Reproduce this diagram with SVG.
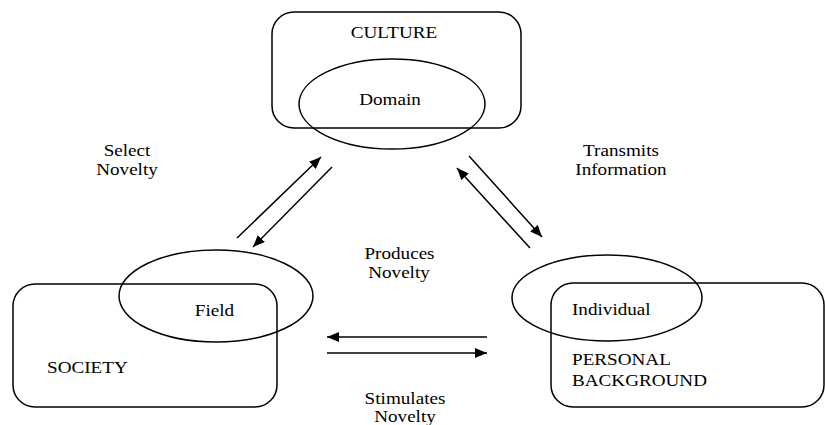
<svg xmlns="http://www.w3.org/2000/svg" width="825" height="425" viewBox="0 0 825 425">
<style>
.box{fill:none;stroke:#000;stroke-width:1.5}
.ell{fill:none;stroke:#000;stroke-width:1.5}
.t{font-family:"Liberation Serif",serif;font-size:16.5px;fill:#000}
.c{text-anchor:middle}
.ln{stroke:#000;stroke-width:1.5;fill:none;marker-end:url(#ah)}
</style>
<defs>
<marker id="ah" viewBox="0 0 12 10" refX="12" refY="5" markerWidth="12" markerHeight="10" markerUnits="userSpaceOnUse" orient="auto">
<path d="M0,0 L12,5 L0,10 z" fill="#000"/>
</marker>
</defs>
<rect width="825" height="425" fill="#fff"/>
<g id="culture">
<rect class="box" x="272" y="12" width="249" height="116" rx="22"/>
<ellipse class="ell" cx="392" cy="104" rx="93" ry="45"/>
<text class="t c" transform="translate(394,38) scale(1.16,1)">CULTURE</text>
<text class="t c" transform="translate(390,105) scale(1.16,1)">Domain</text>
</g>
<g id="society">
<rect class="box" x="13" y="284" width="264" height="123" rx="22"/>
<ellipse class="ell" cx="216" cy="296" rx="97" ry="46"/>
<text class="t c" transform="translate(214.5,316) scale(1.16,1)">Field</text>
<text class="t" transform="translate(47,373) scale(1.16,1)">SOCIETY</text>
</g>
<g id="personal">
<rect class="box" x="551" y="283" width="273" height="124" rx="22"/>
<ellipse class="ell" cx="607" cy="298" rx="95" ry="43"/>
<text class="t" transform="translate(572,315) scale(1.16,1)">Individual</text>
<text class="t" transform="translate(572,365) scale(1.16,1)">PERSONAL</text>
<text class="t" transform="translate(572,386) scale(1.16,1)">BACKGROUND</text>
</g>
<g id="connectors">
<line class="ln" x1="237" y1="238" x2="321" y2="157"/>
<line class="ln" x1="332" y1="167" x2="253" y2="247"/>
<line class="ln" x1="469" y1="156" x2="542" y2="237"/>
<line class="ln" x1="530" y1="248" x2="457" y2="168"/>
<line class="ln" x1="487" y1="337" x2="327" y2="337"/>
<line class="ln" x1="327" y1="353" x2="487" y2="353"/>
</g>
<g id="labels">
<text class="t c" transform="translate(127,156) scale(1.16,1)">Select</text>
<text class="t c" transform="translate(127,175) scale(1.16,1)">Novelty</text>
<text class="t c" transform="translate(621,156) scale(1.16,1)">Transmits</text>
<text class="t c" transform="translate(621,175) scale(1.16,1)">Information</text>
<text class="t c" transform="translate(399.5,259) scale(1.16,1)">Produces</text>
<text class="t c" transform="translate(399,278) scale(1.16,1)">Novelty</text>
<text class="t c" transform="translate(405,404) scale(1.16,1)">Stimulates</text>
<text class="t c" transform="translate(405,422) scale(1.16,1)">Novelty</text>
</g>
</svg>
